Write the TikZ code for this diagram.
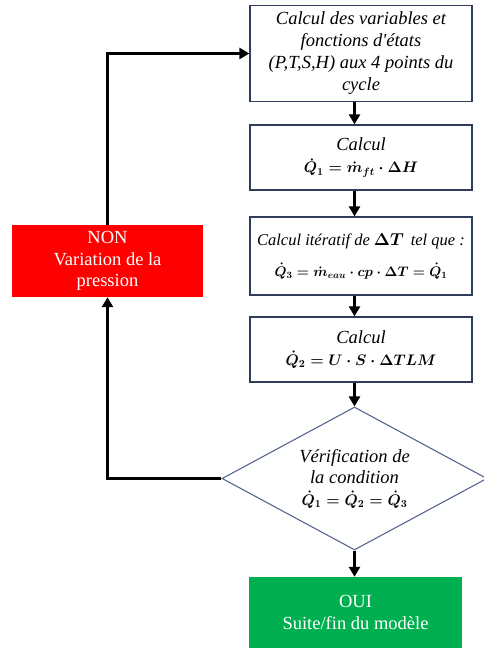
\documentclass[tikz,border=0pt]{standalone}
\usepackage{amsmath}
\usepackage{graphicx}
\usepackage{fontspec}
\setmainfont{Liberation Serif}
\usetikzlibrary{shapes.geometric,arrows.meta}

\definecolor{boxline}{RGB}{47,60,90}
\definecolor{diamline}{RGB}{84,104,140}
\definecolor{nonred}{RGB}{255,0,0}
\definecolor{ouigreen}{RGB}{0,176,80}

\begin{document}
\begin{tikzpicture}[
		x=1pt,y=-1pt,
		every node/.style={align=center,font=\fontsize{18.5}{21.5}\selectfont},
		calcbox/.style={draw=boxline,line width=1.3pt,minimum width=222pt,inner sep=0pt,font=\fontsize{18.5}{22}\selectfont\itshape},
		test/.style={diamond,draw=diamline,line width=1.1pt,minimum width=265pt,minimum height=143pt,inner sep=0pt,aspect=1.8,font=\fontsize{18.5}{21.5}\selectfont\itshape},
		result/.style={fill=#1,text=white,inner sep=0pt},
		flow/.style={line width=3pt,-{Triangle[length=10pt,width=11pt]}}
		]
		\useasboundingbox (0,0) rectangle (483,650);
		\node[calcbox,minimum height=96pt] (vars) at (361,53.5)
		{Calcul des variables et\\fonctions d\textquotesingle états\\(P,T,S,H) aux 4 points du\\cycle};
		\node[calcbox,minimum height=65pt] (q1) at (361,157.5)
		{Calcul\\{\fontsize{14.4}{21}\selectfont\boldmath\scalebox{1.06}{$\dot{Q}_1 = \dot{m}_{ft}\cdot\Delta H$}}};
		\node[calcbox,minimum height=78pt,font=\fontsize{16.5}{21}\selectfont\itshape] (q3) at (361,256)
		{Calcul itératif de {\boldmath$\Delta T$}\, tel que :\\[10pt]{\fontsize{14.4}{20}\selectfont\boldmath\scalebox{0.96}{$\dot{Q}_3 = \dot{m}_{eau}\cdot cp\cdot\Delta T = \dot{Q}_1$}}};
		\node[calcbox,minimum height=65pt] (q2) at (361,349.5)
		{Calcul\\{\fontsize{14.4}{21}\selectfont\boldmath\scalebox{1.06}{$\dot{Q}_2 = U\cdot S\cdot\Delta TLM$}}};
		\node[test] (check) at (354.5,478.5)
		{Vérification de\\la condition\\{\fontsize{14.4}{21}\selectfont\boldmath\scalebox{1.06}{$\dot{Q}_1 = \dot{Q}_2 = \dot{Q}_3$}}};
		\node[result=ouigreen,minimum width=213pt,minimum height=71pt] (oui) at (355.5,612.5)
		{OUI\\Suite/fin du modèle};
		\node[result=nonred,minimum width=191pt,minimum height=72pt] (non) at (107.5,261)
		{NON\\Variation de la\\pression};
		
		% main column
		\draw[flow] (vars.south -| check.north) -- (q1.north -| check.north);
		\draw[flow] (q1.south -| check.north) -- (q3.north -| check.north);
		\draw[flow] (q3.south -| check.north) -- (q2.north -| check.north);
		\draw[flow] (q2.south -| check.north) -- (check.north);
		\draw[flow] (check.south) -- (oui.north -| check.south);
		% loop back
		\draw[flow] (check.west) -| (non.south);
		\draw[flow] (non.north) |- (vars.west);
		\end{tikzpicture}
\end{document}
